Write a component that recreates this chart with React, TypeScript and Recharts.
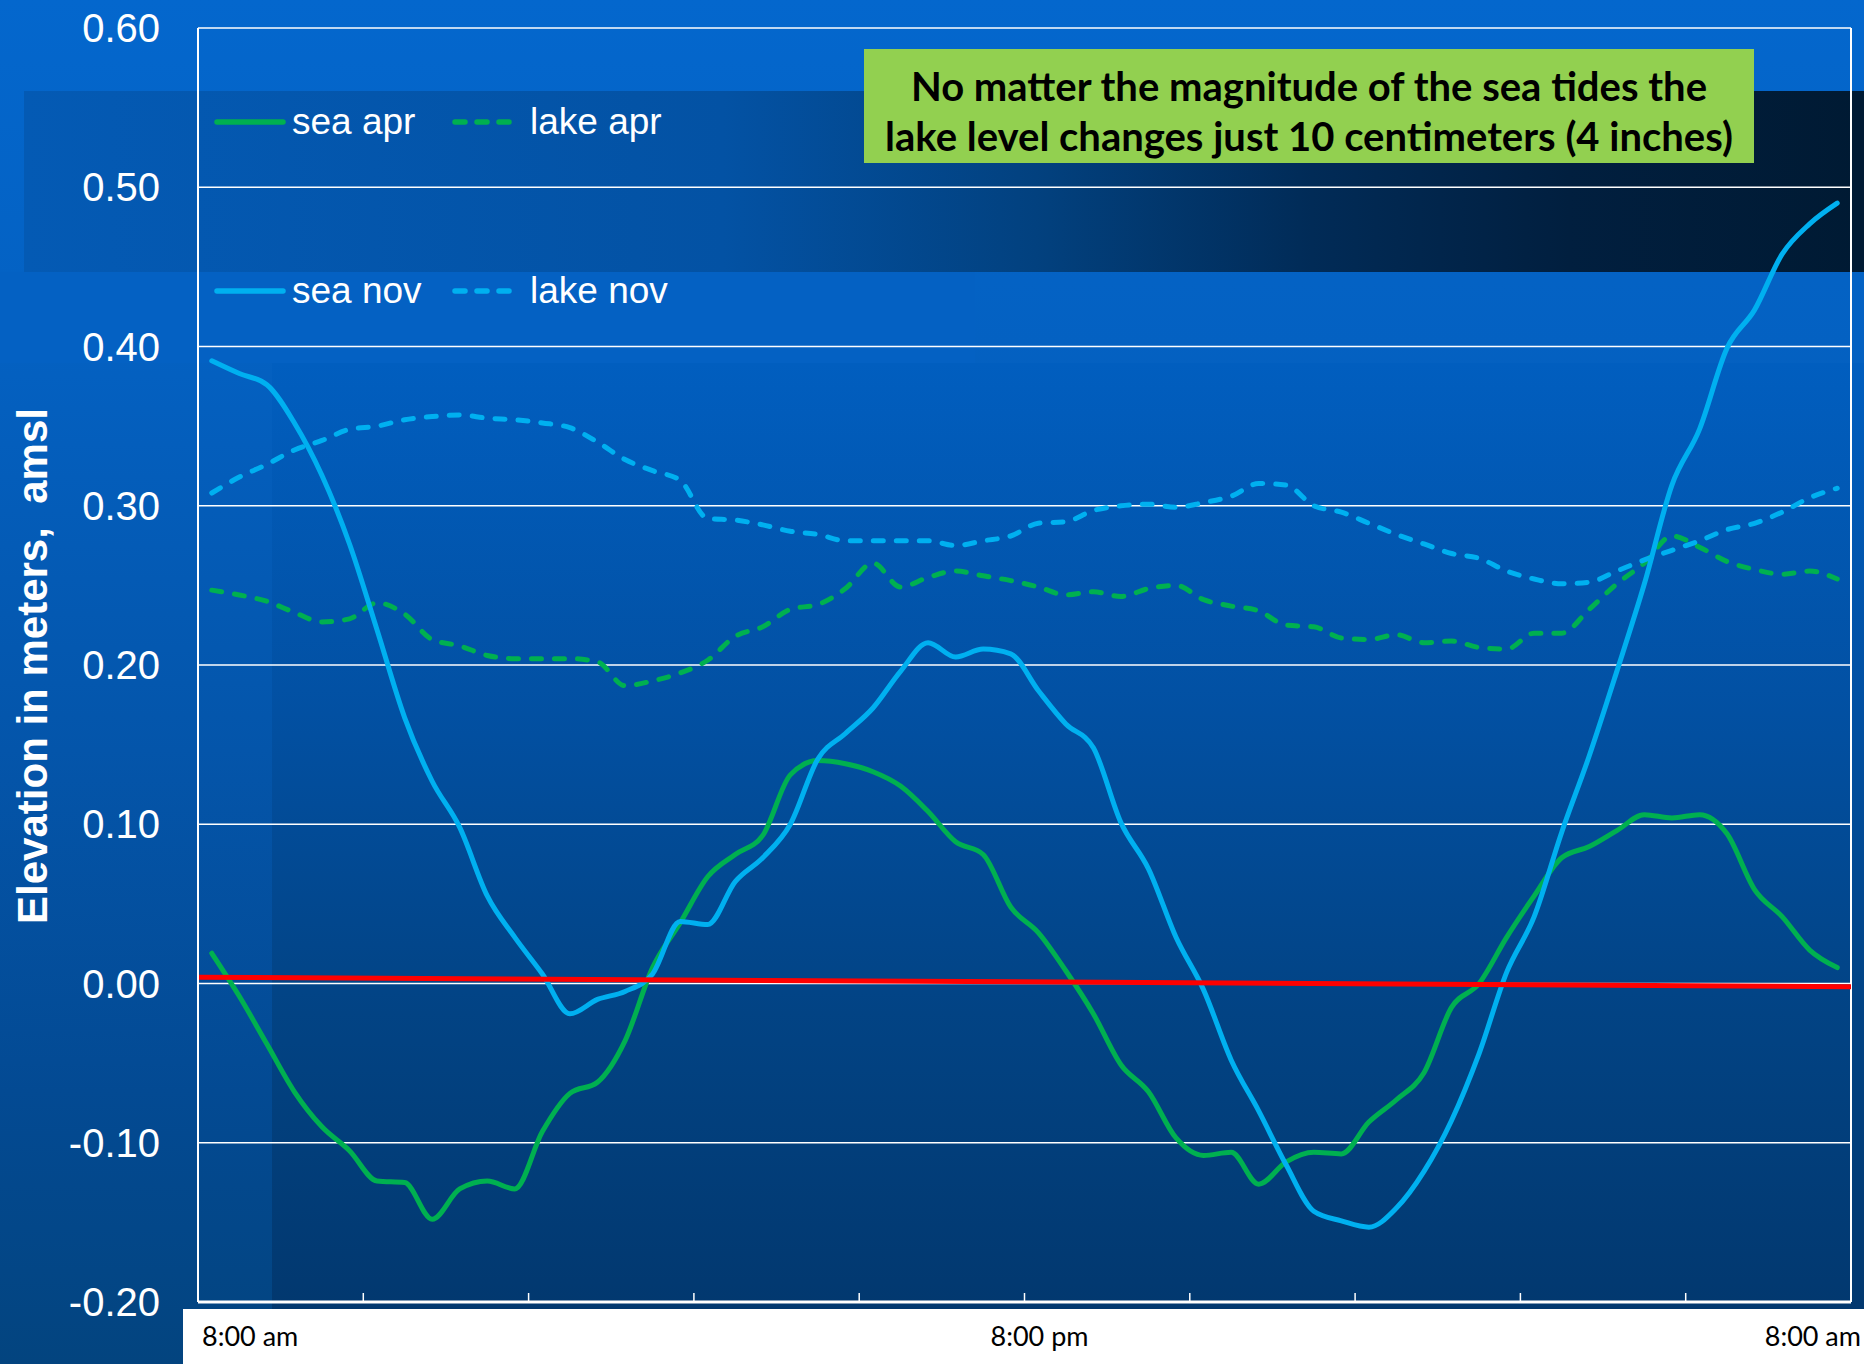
import { LineChart, Line, XAxis, YAxis, CartesianGrid, ReferenceLine } from 'recharts';

// hours after 8:00 am
const hours = [
  0.2, 0.6, 1.0, 1.4, 1.8, 2.2, 2.6, 3.0, 3.4, 3.8, 4.2, 4.6, 5.0, 5.4, 5.8,
  6.2, 6.6, 7.0, 7.4, 7.8, 8.2, 8.6, 9.0, 9.4, 9.8, 10.2, 10.6, 11.0, 11.4, 11.8,
  12.2, 12.6, 13.0, 13.4, 13.8, 14.2, 14.6, 15.0, 15.4, 15.8, 16.2, 16.6, 17.0, 17.4, 17.8,
  18.2, 18.6, 19.0, 19.4, 19.8, 20.2, 20.6, 21.0, 21.4, 21.8, 22.2, 22.6, 23.0, 23.4, 23.8,
];

const seaApr = [
  0.019, -0.008, -0.038, -0.068, -0.09, -0.105, -0.124, -0.125, -0.148, -0.129, -0.124, -0.129, -0.093, -0.069, -0.062,
  -0.036, 0.01, 0.038, 0.067, 0.081, 0.093, 0.131, 0.14, 0.138, 0.133, 0.124, 0.108, 0.089, 0.081, 0.048,
  0.032, 0.008, -0.019, -0.051, -0.068, -0.097, -0.108, -0.106, -0.126, -0.112, -0.106, -0.107, -0.087, -0.073, -0.056,
  -0.015, 0.0, 0.029, 0.055, 0.079, 0.086, 0.096, 0.106, 0.104, 0.106, 0.094, 0.059, 0.042, 0.021, 0.01,
];

const lakeApr = [
  0.247, 0.244, 0.24, 0.233, 0.227, 0.229, 0.239, 0.232, 0.216, 0.212, 0.206, 0.204, 0.204, 0.204, 0.202,
  0.187, 0.19, 0.195, 0.203, 0.218, 0.224, 0.235, 0.238, 0.248, 0.264, 0.249, 0.255, 0.259, 0.256, 0.253,
  0.249, 0.244, 0.246, 0.243, 0.248, 0.25, 0.241, 0.237, 0.234, 0.225, 0.224, 0.217, 0.216, 0.219, 0.214,
  0.215, 0.211, 0.21, 0.22, 0.22, 0.235, 0.251, 0.264, 0.281, 0.274, 0.265, 0.26, 0.257, 0.259, 0.254,
];

const seaNov = [
  0.391, 0.383, 0.376, 0.352, 0.319, 0.276, 0.222, 0.167, 0.127, 0.098, 0.055, 0.029, 0.006, -0.019, -0.01,
  -0.005, 0.006, 0.039, 0.037, 0.064, 0.079, 0.1, 0.141, 0.157, 0.173, 0.196, 0.214, 0.205, 0.21, 0.207,
  0.184, 0.163, 0.148, 0.101, 0.072, 0.029, -0.004, -0.048, -0.08, -0.114, -0.143, -0.149, -0.153, -0.141, -0.118,
  -0.086, -0.044, 0.007, 0.042, 0.095, 0.143, 0.196, 0.251, 0.313, 0.348, 0.399, 0.423, 0.458, 0.477, 0.49,
];

const lakeNov = [
  0.308, 0.318, 0.326, 0.335, 0.341, 0.348, 0.35, 0.354, 0.356, 0.357, 0.355, 0.354, 0.352, 0.349, 0.34,
  0.329, 0.322, 0.316, 0.292, 0.291, 0.288, 0.284, 0.282, 0.278, 0.278, 0.278, 0.278, 0.275, 0.278, 0.281,
  0.289, 0.29, 0.297, 0.3, 0.301, 0.299, 0.302, 0.306, 0.314, 0.313, 0.3, 0.296, 0.289, 0.282, 0.276,
  0.27, 0.267, 0.259, 0.254, 0.251, 0.252, 0.259, 0.266, 0.272, 0.278, 0.285, 0.289, 0.296, 0.305, 0.311,
];

// red trend line, value at 8:00 am and at 8:00 am next day
const trendEnds = [0.004, -0.002];

const yTicks = [-0.2, -0.1, 0, 0.1, 0.2, 0.3, 0.4, 0.5, 0.6];
const xTicks = [0, 2.4, 4.8, 7.2, 9.6, 12, 14.4, 16.8, 19.2, 21.6, 24];
const xTickLabels = ['8:00 am', '', '', '', '', '8:00 pm', '', '', '', '', '8:00 am'];

const data = hours.map((h, i) => ({
  h,
  seaApr: seaApr[i],
  lakeApr: lakeApr[i],
  seaNov: seaNov[i],
  lakeNov: lakeNov[i],
}));

const GREEN = '#00B050';
const BLUE = '#00B0F0';
const DASH = '10 13';
const LINE_W = 5;

function XTick(props: any) {
  const { x, y, index } = props;
  const last = xTicks.length - 1;
  const label = xTickLabels[index];
  const anchor = index === 0 ? 'start' : index === last ? 'end' : 'middle';
  const dx = index === 0 ? 4 : index === last ? 10 : 15;
  return (
    <g>
      {index > 0 && index < last && (
        <line x1={x} x2={x} y1={y} y2={y - 9} stroke="#fff" strokeWidth={1.5} />
      )}
      {label && (
        <text x={x + dx} y={y + 44} textAnchor={anchor} fill="#000" fontSize={27} fontFamily="Lato">
          {label}
        </text>
      )}
    </g>
  );
}

function LegendItem({ name, color, dashed }: { name: string; color: string; dashed?: boolean }) {
  return (
    <div style={{ display: 'flex', alignItems: 'center', height: 40 }}>
      <svg width={72} height={10} style={{ marginRight: 6 }}>
        <line
          x1={3}
          x2={dashed ? 60 : 69}
          y1={5}
          y2={5}
          stroke={color}
          strokeWidth={5.5}
          strokeLinecap="round"
          strokeDasharray={dashed ? '10 12' : undefined}
        />
      </svg>
      <span style={{ color: '#fff', fontSize: 37, fontFamily: 'Liberation Sans', lineHeight: '40px' }}>{name}</span>
    </div>
  );
}

export default function App() {
  return (
    <div
      style={{
        position: 'absolute',
        left: 0,
        top: 0,
        width: 1864,
        height: 1364,
        overflow: 'hidden',
        background: 'linear-gradient(180deg, #0467cd 0%, #0461c2 25%, #0455aa 55%, #034a93 80%, #03447f 100%)',
      }}
    >
      {/* background bands */}
      <div
        style={{
          position: 'absolute',
          left: 24,
          top: 91,
          width: 1840,
          height: 181,
          background:
            'linear-gradient(90deg, #045ab4 0%, #0352a4 38%, #02417f 55%, #012b57 70%, #011f3f 84%, #001a33 100%)',
        }}
      />
      <div
        style={{
          position: 'absolute',
          left: 0,
          top: 272,
          width: 975,
          height: 91,
          background: '#0461c3',
        }}
      />
      <div
        style={{
          position: 'absolute',
          left: 272,
          top: 363,
          width: 1592,
          height: 1001,
          background: 'linear-gradient(180deg, #015ebf 0%, #0250a2 35%, #024384 65%, #02366b 100%)',
        }}
      />
      <div style={{ position: 'absolute', left: 183, top: 1309, width: 1681, height: 55, background: '#fff' }} />

      <div style={{ position: 'absolute', left: 0, top: 0 }}>
        <LineChart width={1864} height={1364} data={data} margin={{ top: 28, right: 13, left: 0, bottom: 0 }}>
          <CartesianGrid horizontal vertical={false} stroke="#ffffff" strokeWidth={1.6} />
          <XAxis
            dataKey="h"
            type="number"
            domain={[0, 24]}
            ticks={xTicks}
            interval={0}
            height={62}
            tickSize={0}
            tickMargin={0}
            tickLine={false}
            axisLine={{ stroke: '#fff', strokeWidth: 3 }}
            tick={<XTick />}
          />
          <YAxis
            type="number"
            domain={[-0.2, 0.6]}
            ticks={yTicks}
            interval={0}
            width={198}
            tickSize={0}
            tickMargin={38}
            tickLine={false}
            axisLine={{ stroke: '#fff', strokeWidth: 2 }}
            tickFormatter={(v: number) => v.toFixed(2)}
            tick={{ fill: '#fff', fontSize: 40, fontFamily: 'Liberation Sans' }}
          />
          <ReferenceLine x={24} stroke="#fff" strokeWidth={2} />
          <Line
            dataKey="lakeApr"
            type="monotone"
            stroke={GREEN}
            strokeWidth={LINE_W}
            strokeDasharray={DASH}
            strokeLinecap="round"
            dot={false}
            isAnimationActive={false}
          />
          <Line
            dataKey="lakeNov"
            type="monotone"
            stroke={BLUE}
            strokeWidth={LINE_W}
            strokeDasharray={DASH}
            strokeLinecap="round"
            dot={false}
            isAnimationActive={false}
          />
          <Line
            dataKey="seaApr"
            type="monotone"
            stroke={GREEN}
            strokeWidth={LINE_W}
            strokeLinecap="round"
            dot={false}
            isAnimationActive={false}
          />
          <Line
            dataKey="seaNov"
            type="monotone"
            stroke={BLUE}
            strokeWidth={LINE_W}
            strokeLinecap="round"
            dot={false}
            isAnimationActive={false}
          />
          <ReferenceLine
            segment={[
              { x: 0, y: trendEnds[0] },
              { x: 24, y: trendEnds[1] },
            ]}
            stroke="#FF0000"
            strokeWidth={5}
          />
        </LineChart>
      </div>

      {/* legend */}
      <div style={{ position: 'absolute', left: 214, top: 102, display: 'flex' }}>
        <div style={{ width: 238 }}>
          <LegendItem name="sea apr" color={GREEN} />
        </div>
        <LegendItem name="lake apr" color={GREEN} dashed />
      </div>
      <div style={{ position: 'absolute', left: 214, top: 271, display: 'flex' }}>
        <div style={{ width: 238 }}>
          <LegendItem name="sea nov" color={BLUE} />
        </div>
        <LegendItem name="lake nov" color={BLUE} dashed />
      </div>

      {/* annotation */}
      <div
        style={{
          position: 'absolute',
          left: 864,
          top: 49,
          width: 890,
          height: 114,
          boxSizing: 'border-box',
          paddingTop: 12,
          background: '#92D050',
          color: '#000',
          fontFamily: 'Lato',
          fontWeight: 700,
          fontSize: 40,
          lineHeight: '50px',
          textAlign: 'center',
          whiteSpace: 'nowrap',
        }}
      >
        No matter the magnitude of the sea tides the
        <br />
        lake level changes just 10 centimeters (4 inches)
      </div>

      {/* y axis title */}
      <svg style={{ position: 'absolute', left: 0, top: 0 }} width={80} height={1364}>
        <text
          x={0}
          y={0}
          transform="translate(47 666) rotate(-90)"
          textAnchor="middle"
          fill="#fff"
          fontSize={42}
          fontWeight="bold"
          fontFamily="Liberation Sans"
          style={{ whiteSpace: 'pre' }}
        >
          {'Elevation in meters,  amsl'}
        </text>
      </svg>
    </div>
  );
}
